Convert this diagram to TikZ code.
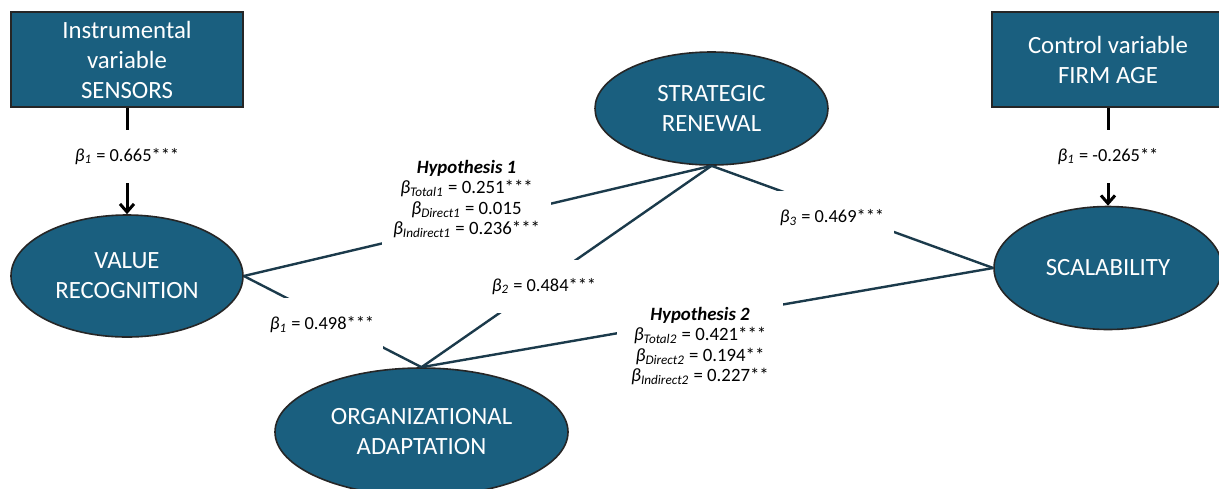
\documentclass[tikz,border=0pt]{standalone}
\usepackage{fontspec}
\setmainfont{Carlito}
\usetikzlibrary{shapes.geometric,arrows.meta}
\definecolor{varblue}{HTML}{1A5F7F}
\definecolor{linkcol}{HTML}{1B3A4B}
\newcommand{\coef}[1]{\textit{β}\textsubscript{\textit{#1}}}

\begin{document}
\begin{tikzpicture}[x=0.5pt,y=-0.5pt,
    varbox/.style={draw=black!85,line width=0.8pt,fill=varblue,text=white,align=center,
      minimum width=116pt,minimum height=47.5pt,inner sep=0pt,font=\fontsize{12.4}{15}\selectfont},
    construct/.style={ellipse,draw=black!85,line width=0.8pt,fill=varblue,text=white,align=center,
      inner sep=0pt,font=\fontsize{12.4}{15}\selectfont},
    link/.style={linkcol,line width=1.2pt},
    effect/.style={black,line width=1.5pt,-{Straight Barb[length=4pt,width=7pt]}},
    coeflabel/.style={fill=white,align=center,inner sep=0pt,font=\fontsize{9.2}{11}\selectfont},
    hyplabel/.style={fill=white,align=center,inner sep=0pt,font=\fontsize{9.4}{10.3}\selectfont}]
    \clip (0,0) rectangle (1219,488);
    % variables outside the model
    \node[varbox] (sensors) at (127,59.5) {Instrumental\\variable\\SENSORS};
    \node[varbox] (firmage) at (1108,59.5) {Control variable\\FIRM AGE};
    % constructs
    \node[construct,minimum width=116pt,minimum height=61pt] (value) at (127,276) {VALUE\\RECOGNITION};
    \node[construct,minimum width=116.5pt,minimum height=56.5pt] (renewal) at (711.5,108.5) {STRATEGIC\\RENEWAL};
    \node[construct,minimum width=146.5pt,minimum height=64pt] (adapt) at (421.5,432) {ORGANIZATIONAL\\ADAPTATION};
    \node[construct,minimum width=114pt,minimum height=61.5pt] (scale) at (1108,268) {SCALABILITY};
    % paths
    \draw[effect] (sensors.south) -- (value.north);
    \draw[effect] (firmage.south) -- (scale.north);
    \draw[link] (value.east) -- (renewal.south);
    \draw[link] (value.east) -- (adapt.north);
    \draw[link] (renewal.south) -- (adapt.north);
    \draw[link] (renewal.south) -- (scale.west);
    \draw[link] (adapt.north) -- (scale.west);
    % coefficients, laid over the paths
    \node[coeflabel,minimum width=60pt,minimum height=26.5pt] (b665) at (127,156.5) {\coef{1} = 0.665***};
    \node[coeflabel,minimum width=60pt,minimum height=26.5pt] (b265) at (1108,156.5) {\coef{1} = -0.265**};
    \node[coeflabel,minimum width=56pt,minimum height=26.5pt] (b484) at (544,286.5) {\coef{2} = 0.484***};
    \node[coeflabel,minimum width=60.5pt,minimum height=27pt] (b498) at (322,325) {\coef{1} = 0.498***};
    \node[coeflabel,minimum width=62pt,minimum height=27pt] (b469) at (832,218) {\coef{3} = 0.469***};
    \node[hyplabel,minimum width=84.5pt,minimum height=49pt] (hyp1) at (466.5,199)
      {\textbf{\textit{Hypothesis 1}}\\\coef{Total1} = 0.251***\\\coef{Direct1} = 0.015\\\coef{Indirect1} = 0.236***};
    \node[hyplabel,minimum width=83pt,minimum height=46pt] (hyp2) at (700,346)
      {\textbf{\textit{Hypothesis 2}}\\\coef{Total2} = 0.421***\\\coef{Direct2} = 0.194**\\\coef{Indirect2} = 0.227**};
\end{tikzpicture}
\end{document}
